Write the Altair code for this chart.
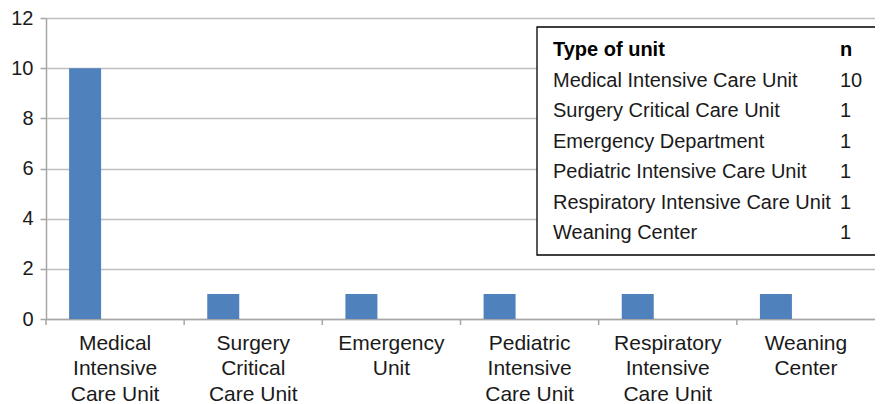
import altair as alt
import pandas as pd

# ---- data ----
categories = [
    "Medical|Intensive|Care Unit",
    "Surgery|Critical|Care Unit",
    "Emergency|Unit",
    "Pediatric|Intensive|Care Unit",
    "Respiratory|Intensive|Care Unit",
    "Weaning|Center",
]
counts = [10, 1, 1, 1, 1, 1]
y_ticks = [0, 2, 4, 6, 8, 10, 12]

table_header = ["Type of unit", "n"]
table_units = [
    "Medical Intensive Care Unit",
    "Surgery Critical Care Unit",
    "Emergency Department",
    "Pediatric Intensive Care Unit",
    "Respiratory Intensive Care Unit",
    "Weaning Center",
]
table_n = ["10", "1", "1", "1", "1", "1"]

FONT = "Liberation Sans"
TXT = "#1a1a1a"
GRID = "#BFBFBF"
AX = "#A6A6A6"

df = pd.DataFrame({"unit": categories, "count": counts})
x_scale = alt.Scale(domain=categories, paddingInner=0, paddingOuter=0)

bars = alt.Chart(df).mark_bar(color="#4F81BD", width=32, xOffset=-30).encode(
    x=alt.X(
        "unit:N",
        scale=x_scale,
        axis=alt.Axis(
            title=None,
            labelExpr="split(datum.label, '|')",
            labelAngle=0,
            ticks=False,
            grid=False,
            domainColor=AX,
            domainWidth=1.5,
            labelFont=FONT,
            labelFontSize=21,
            labelLineHeight=25.5,
            labelPadding=13,
            labelColor=TXT,
        ),
    ),
    y=alt.Y(
        "count:Q",
        scale=alt.Scale(domain=[0, 12], nice=False),
        axis=alt.Axis(
            values=y_ticks,
            title=None,
            domainColor=AX,
            domainWidth=1.5,
            tickColor=AX,
            tickSize=6,
            tickWidth=1.5,
            gridColor=GRID,
            gridWidth=1.5,
            labelFont=FONT,
            labelFontSize=20,
            labelColor=TXT,
            labelPadding=7,
        ),
    ),
)

ticks = alt.Chart(df).mark_rule(color=AX, strokeWidth=1.5).encode(
    x=alt.X("unit:N", scale=x_scale, bandPosition=0),
    y=alt.value(301),
    y2=alt.value(307),
)

box = alt.Chart(pd.DataFrame({"k": [0]})).mark_rect(
    fill="white", stroke="black", strokeWidth=1.3
).encode(
    x=alt.value(491), x2=alt.value(831), y=alt.value(9), y2=alt.value(237)
)

row_scale = alt.Scale(type="point", domain=list(range(7)), range=[32, 215], padding=0)

hdr = pd.DataFrame({"row": [0], "unit": [table_header[0]], "n": [table_header[1]]})
body = pd.DataFrame({"row": list(range(1, 7)), "unit": table_units, "n": table_n})

hdr_unit = alt.Chart(hdr).mark_text(
    font=FONT, fontSize=20, fontWeight="bold", align="left", baseline="middle", color="black"
).encode(x=alt.value(507), y=alt.Y("row:O", scale=row_scale, axis=None), text="unit:N")
hdr_n = alt.Chart(hdr).mark_text(
    font=FONT, fontSize=20, fontWeight="bold", align="left", baseline="middle", color="black"
).encode(x=alt.value(794), y=alt.Y("row:O", scale=row_scale, axis=None), text="n:N")
body_unit = alt.Chart(body).mark_text(
    font=FONT, fontSize=20, align="left", baseline="middle", color=TXT
).encode(x=alt.value(507), y=alt.Y("row:O", scale=row_scale, axis=None), text="unit:N")
body_n = alt.Chart(body).mark_text(
    font=FONT, fontSize=20, align="left", baseline="middle", color=TXT
).encode(x=alt.value(794), y=alt.Y("row:O", scale=row_scale, axis=None), text="n:N")

chart = (
    alt.layer(bars, ticks, box, hdr_unit, hdr_n, body_unit, body_n)
    .resolve_scale(y="independent")
    .properties(
        width=829,
        height=301,
        padding={"left": 38, "top": 10, "right": 0, "bottom": 85},
        autosize=alt.AutoSizeParams(type="none"),
    )
    .configure_view(strokeWidth=0)
)

chart.save("out.html", embed_options={"renderer": "svg", "actions": False})
